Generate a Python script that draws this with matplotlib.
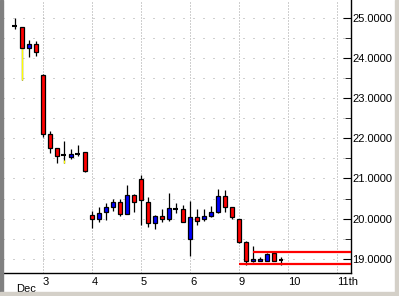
import matplotlib
matplotlib.use("Agg")
import matplotlib.pyplot as plt
from matplotlib.patches import Rectangle

# hourly candles, 7 per session, index 0 = start of Dec 2
idx = list(range(3, 42))
opens = [24.79, 24.76, 24.24, 24.34,
         23.57, 22.11, 21.76, 21.58, 21.53, 21.61, 21.66,
         20.09, 19.99, 20.17, 20.29, 20.42, 20.12, 20.59,
         20.99, 20.42, 19.89, 20.07, 19.99, 20.24, 20.24,
         19.50, 20.04, 19.99, 20.07, 20.17, 20.57, 20.29,
         19.99, 19.42, 18.95, 18.95, 18.95, 19.15, 18.98]
highs = [24.99, 24.76, 24.44, 24.42,
         23.60, 22.18, 21.76, 21.93, 21.73, 21.83, 21.66,
         20.19, 20.29, 20.39, 20.49, 20.49, 20.84, 20.62,
         21.09, 20.54, 20.09, 20.24, 20.64, 20.39, 20.34,
         20.44, 20.24, 20.24, 20.32, 20.74, 20.72, 20.29,
         19.99, 19.45, 19.32, 19.05, 19.15, 19.17, 19.05]
lows = [24.71, 23.45, 24.02, 24.04,
        22.03, 21.63, 21.39, 21.39, 21.48, 21.56, 21.16,
        19.77, 19.91, 19.97, 20.19, 20.07, 20.12, 20.17,
        19.84, 19.80, 19.74, 19.91, 19.94, 20.14, 19.92,
        19.07, 19.84, 19.94, 20.04, 20.14, 20.17, 19.99,
        19.40, 18.85, 18.93, 18.95, 18.95, 18.95, 18.85]
closes = [24.79, 24.24, 24.34, 24.14,
          22.11, 21.76, 21.56, 21.58, 21.61, 21.61, 21.19,
          19.99, 20.14, 20.29, 20.42, 20.12, 20.59, 20.42,
          20.47, 19.89, 20.07, 19.99, 20.27, 20.24, 19.92,
          20.04, 19.94, 20.07, 20.17, 20.57, 20.29, 20.04,
          19.42, 18.95, 19.00, 19.00, 19.12, 18.95, 18.98]
# lower wick drawn yellow below this level
yellow_idx = [4, 10]
yellow_from = [24.24, 21.46]

# horizontal levels (start index, price)
level_starts = [37, 35]
level_prices = [19.17, 18.87]

day_ticks = [7, 14, 21, 28, 35, 42, 49]
day_labels = ["3", "4", "5", "6", "9", "10", "11th"]

W, H = 399, 296
fig = plt.figure(figsize=(W / 100, H / 100), dpi=100)
fig.patch.set_facecolor("white")
ax = fig.add_axes([3 / W, 1 - 273 / H, 348 / W, 273 / H])
ax.set_xlim(1.3, 51.0)
ax.set_ylim(18.652, 25.435)

for y in [19 + 0.5 * k for k in range(13)]:
    ax.axhline(y, color="#a0a0a0", lw=0.72, ls=(0, (1, 9)), zorder=0)
for x in day_ticks:
    ax.axvline(x, color="#a0a0a0", lw=0.72, ls=(0, (1, 2)), zorder=0)

for i, o, h, l, c in zip(idx, opens, highs, lows, closes):
    ax.vlines(i, l, h, color="black", lw=0.9, zorder=2)
for i, yf in zip(yellow_idx, yellow_from):
    ax.vlines(i, lows[idx.index(i)], yf, color="#ffff00", lw=0.9, zorder=3)

for i, o, c in zip(idx, opens, closes):
    if o == c:
        ax.hlines(o, i - 0.35, i + 0.35, color="black", lw=1.5, zorder=4)
    else:
        col = "#0000ff" if c > o else "#ff0000"
        ax.bar(i, abs(c - o), bottom=min(o, c), width=0.58, color=col,
               edgecolor="black", linewidth=0.9, zorder=4)

for s, p in zip(level_starts, level_prices):
    ax.hlines(p, s, 51.0, color="#ff0000", lw=1.6, zorder=5)

for side in ["left", "top"]:
    ax.spines[side].set_visible(False)
ax.spines["right"].set_linewidth(1.0)
ax.spines["bottom"].set_linewidth(1.0)

ax.yaxis.tick_right()
ax.set_yticks([19, 20, 21, 22, 23, 24, 25])
ax.set_yticklabels(["%.4f" % v for v in [19, 20, 21, 22, 23, 24, 25]])
ax.set_yticks([19.5 + k for k in range(6)], minor=True)
ax.tick_params(axis="y", which="major", direction="in", length=6, pad=1,
               labelsize=8)
ax.tick_params(axis="y", which="minor", direction="in", length=4)
ax.set_xticks(day_ticks)
ax.set_xticklabels(day_labels, ha="left")
ax.tick_params(axis="x", length=0, pad=3, labelsize=8)
for lab in ax.get_xticklabels() + ax.get_yticklabels():
    lab.set_fontfamily("Liberation Sans")

fig.text(16 / W, 1 - 289 / H, "Dec", fontsize=8, family="Liberation Sans",
         ha="left", va="center")

# window panel border
fig.patches.append(Rectangle((0, 0), 3 / W, 1, transform=fig.transFigure,
                             color="#808080", zorder=10))
fig.patches.append(Rectangle((0, 0), 1, 4 / H, transform=fig.transFigure,
                             color="#d4d0c8", zorder=10))
fig.patches.append(Rectangle((1 - 4 / W, 0), 4 / W, 1,
                             transform=fig.transFigure, color="#d4d0c8",
                             zorder=10))

fig.savefig("out.png", dpi=100)
